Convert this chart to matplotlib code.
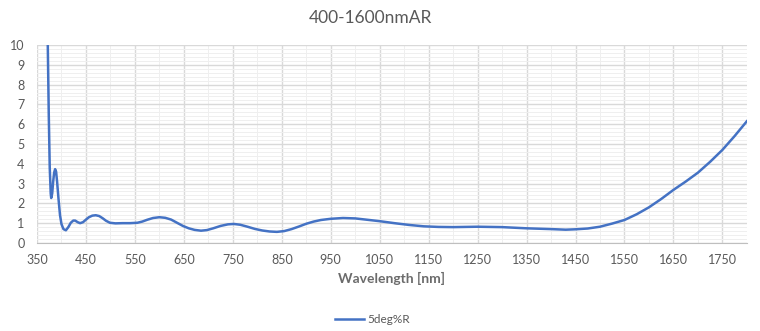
import matplotlib.pyplot as plt
from matplotlib.ticker import MultipleLocator

# measured reflectance, 5 deg incidence
wavelength = [370, 372, 374, 376, 378, 379, 381, 383, 385, 387, 389, 391, 394, 397,
              400, 404, 409, 414, 419, 424, 428, 433, 438, 444, 450, 456, 463, 470,
              477, 484, 491, 499, 510, 525, 540, 555, 565, 575, 587, 600, 612, 624,
              636, 648, 660, 672, 685, 697, 710, 725, 740, 752, 765, 780, 795, 810,
              825, 840, 855, 870, 885, 900, 915, 930, 950, 975, 1000, 1025, 1050,
              1080, 1110, 1140, 1170, 1200, 1250, 1300, 1350, 1400, 1430, 1450,
              1475, 1500, 1525, 1550, 1575, 1600, 1625, 1650, 1675, 1700, 1725,
              1750, 1775, 1800]
reflect = [14.0, 10.0, 6.5, 3.8, 2.5, 2.27, 2.5, 3.1, 3.55, 3.73, 3.6, 3.1, 2.2, 1.4,
           0.95, 0.7, 0.64, 0.8, 1.02, 1.13, 1.13, 1.05, 1.0, 1.05, 1.18, 1.3, 1.38, 1.4,
           1.36, 1.25, 1.12, 1.02, 0.99, 1.0, 1.0, 1.02, 1.08, 1.17, 1.26, 1.3, 1.27, 1.18,
           1.02, 0.86, 0.74, 0.66, 0.62, 0.65, 0.74, 0.86, 0.94, 0.96, 0.92, 0.82, 0.71, 0.63,
           0.58, 0.56, 0.6, 0.7, 0.83, 0.97, 1.08, 1.16, 1.22, 1.26, 1.24, 1.17, 1.1,
           1.0, 0.91, 0.84, 0.81, 0.8, 0.82, 0.8, 0.74, 0.7, 0.67, 0.69,
           0.73, 0.82, 0.98, 1.16, 1.45, 1.8, 2.22, 2.68, 3.1, 3.55, 4.1,
           4.7, 5.4, 6.15]

plt.rcParams['font.family'] = ['Lato', 'DejaVu Sans']
grey = '#595959'

fig = plt.figure(figsize=(7.6, 3.31), dpi=100)
ax = fig.add_axes([0.0487, 0.266, 0.934, 0.598])

ax.plot(wavelength, reflect, color='#4472C4', lw=1.8, label='5deg%R')

ax.set_xlim(350, 1800)
ax.set_ylim(0, 10)
ax.xaxis.set_major_locator(MultipleLocator(100))
ax.xaxis.set_minor_locator(MultipleLocator(50))
ax.set_xticks(range(350, 1800, 100))
ax.yaxis.set_major_locator(MultipleLocator(1))
ax.yaxis.set_minor_locator(MultipleLocator(0.2))

ax.grid(which='major', color='#D9D9D9', lw=1.0)
ax.grid(which='minor', color='#EFEFEF', lw=0.7)
ax.set_axisbelow(True)
for s in ['top', 'right', 'left']:
    ax.spines[s].set_visible(False)
ax.spines['bottom'].set_color('#BFBFBF')
ax.tick_params(which='both', length=0, colors=grey, labelsize=9)
ax.tick_params(axis='x', pad=8)
ax.tick_params(axis='y', pad=9)

ax.set_xlabel('Wavelength [nm]', color='#6b6b6b', fontsize=10, fontweight='bold', labelpad=4)
ax.set_ylabel('%R', color=grey, fontsize=10)
ax.yaxis.set_label_coords(-0.058, 0.5)
fig.text(0.487, 0.945, '400-1600nmAR', ha='center', va='center', fontsize=12.5, color=grey)

fig.legend(loc='center', bbox_to_anchor=(0.49, 0.035), frameon=False, fontsize=8.5,
           labelcolor=grey, handlelength=2.5, handletextpad=0.3)

fig.savefig('out.png', dpi=100)
